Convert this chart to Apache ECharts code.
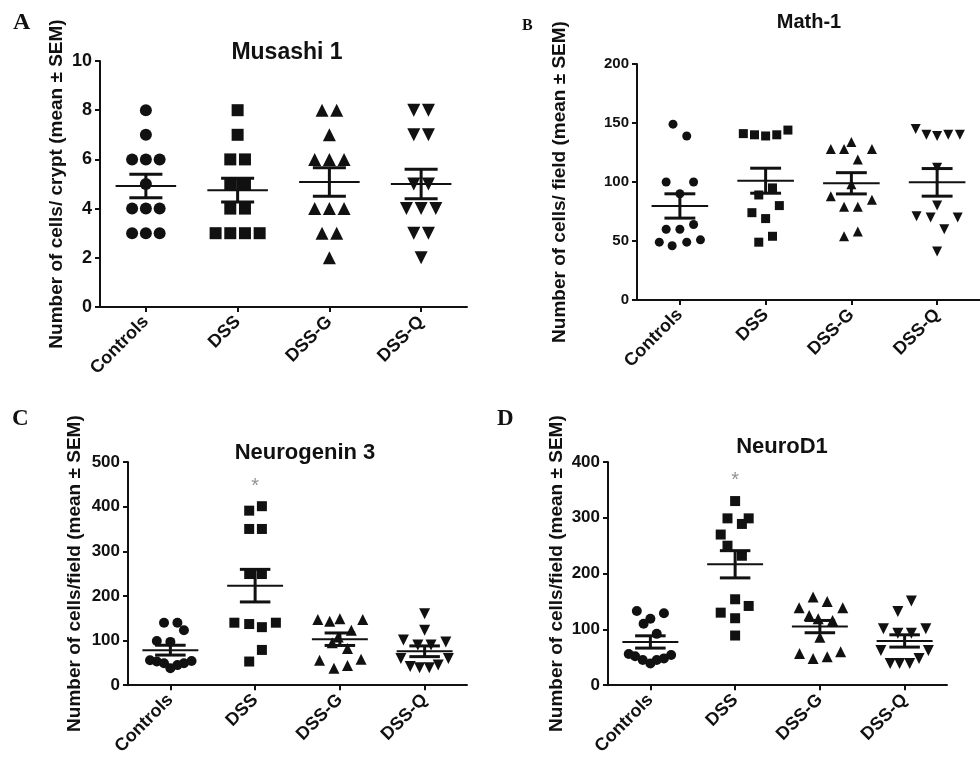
<!DOCTYPE html>
<html>
<head>
<meta charset="utf-8">
<script src="https://cdn.jsdelivr.net/npm/echarts@6/dist/echarts.min.js"></script>
<style>
  html, body { margin: 0; padding: 0; background: #fff; }
  #main { width: 980px; height: 758px; }
</style>
</head>
<body>
<div id="main"></div>
<script>
// groups on the x axis
const groups = ['Controls', 'DSS', 'DSS-G', 'DSS-Q']
const shapes = ['circle', 'rect', 'triangle', 'triangle']
const shapeTurn = [0, 0, 0, 180]

// A - Musashi 1 (cells / crypt)
const musashiValues = [
  [8, 7, 6, 6, 6, 5, 4, 4, 4, 3, 3, 3],
  [8, 7, 6, 6, 5, 5, 4, 4, 3, 3, 3, 3],
  [8, 8, 7, 6, 6, 6, 4, 4, 4, 3, 3, 2],
  [8, 8, 7, 7, 5, 5, 4, 4, 4, 3, 3, 2]
]
const musashiSpread = [
  [0, 0, -0.15, 0, 0.15, 0, -0.15, 0, 0.15, -0.15, 0, 0.15],
  [0, 0, -0.08, 0.08, -0.08, 0.08, -0.08, 0.08, -0.24, -0.08, 0.08, 0.24],
  [-0.08, 0.08, 0, -0.16, 0, 0.16, -0.16, 0, 0.16, -0.08, 0.08, 0],
  [-0.08, 0.08, -0.08, 0.08, -0.08, 0.08, -0.16, 0, 0.16, -0.08, 0.08, 0]
]
const musashiMean = [4.92, 4.75, 5.08, 5.0]
const musashiSem = [0.48, 0.48, 0.58, 0.6]

// B - Math-1 (cells / field)
const mathValues = [
  [149, 139, 100, 100, 90, 64, 60, 60, 49, 46, 49, 51],
  [141, 140, 139, 140, 144, 95, 89, 80, 74, 69, 54, 49],
  [128, 128, 134, 128, 119, 98, 88, 79, 79, 85, 54, 58],
  [145, 140, 139, 140, 140, 112, 80, 71, 70, 70, 60, 41]
]
const mathSpread = [
  [-0.08, 0.08, -0.16, 0.16, 0, 0.16, -0.16, 0, -0.24, -0.09, 0.08, 0.24],
  [-0.26, -0.13, 0, 0.13, 0.26, 0.08, -0.08, 0.16, -0.16, 0, 0.08, -0.08],
  [-0.24, -0.085, 0, 0.24, 0.075, 0, -0.24, -0.085, 0.075, 0.24, -0.085, 0.075],
  [-0.25, -0.125, 0, 0.13, 0.265, 0, 0, -0.24, -0.076, 0.24, 0.083, 0]
]
const mathMean = [79.7, 101.1, 98.9, 99.7]
const mathSem = [10.3, 10.6, 9, 11.7]

// C - Neurogenin 3 (cells / field)
const ngnValues = [
  [140, 140, 123, 99, 97, 56, 53, 49, 38, 45, 49, 54],
  [391, 401, 350, 350, 249, 249, 140, 137, 130, 140, 79, 53],
  [147, 143, 149, 147, 123, 108, 95, 82, 56, 38, 44, 58],
  [160, 123, 101, 97, 90, 90, 60, 42, 39, 39, 45, 60]
]
const ngnSpread = [
  [-0.075, 0.083, 0.16, -0.16, 0, -0.24, -0.16, -0.075, 0, 0.083, 0.16, 0.25],
  [-0.07, 0.08, -0.07, 0.08, -0.07, 0.08, -0.245, -0.07, 0.08, 0.245, 0.08, -0.07],
  [-0.26, -0.12, 0, 0.27, 0.135, -0.02, -0.09, 0.09, -0.24, -0.07, 0.09, 0.25],
  [0, 0, -0.25, 0.25, -0.08, 0.075, -0.28, -0.17, -0.06, 0.055, 0.16, 0.28]
]
const ngnMean = [78.5, 223, 103, 76]
const ngnSem = [11, 36.5, 14, 12]
const ngnStar = [null, 445, null, null]

// D - NeuroD1 (cells / field)
const neurodValues = [
  [133, 119, 110, 129, 92, 56, 52, 45, 39, 45, 48, 54],
  [330, 299, 299, 289, 270, 250, 232, 154, 142, 130, 120, 89],
  [158, 139, 150, 139, 125, 119, 116, 86, 57, 48, 51, 60],
  [151, 132, 101, 101, 93, 93, 62, 62, 39, 39, 39, 48]
]
const neurodSpread = [
  [-0.16, 0, -0.08, 0.16, 0.075, -0.255, -0.18, -0.09, 0, 0.075, 0.16, 0.245],
  [0, -0.09, 0.16, 0.08, -0.17, -0.09, 0.08, 0, 0.16, -0.17, 0, 0],
  [-0.08, -0.245, 0.086, 0.27, -0.126, -0.02, 0.15, 0, -0.24, -0.08, 0.086, 0.245],
  [0.08, -0.08, -0.25, 0.25, -0.08, 0.08, -0.28, 0.28, -0.17, -0.06, 0.06, 0.17]
]
const neurodMean = [77.5, 216.7, 105, 79.3]
const neurodSem = [11, 24.4, 11, 11]
const neurodStar = [null, 367, null, null]

// panel layout
const panels = [
  { title: 'Musashi 1', letter: 'A', values: musashiValues, spread: musashiSpread, mean: musashiMean, sem: musashiSem, star: null,
    grid: { left: 100, top: 61, width: 367, height: 246 }, yMax: 10, yStep: 2, yName: 'Number of cells/ crypt (mean \u00b1 SEM)', nameGap: 34,
    titlePos: [282, 36], titleSize: 23, tickSize: 18, letterPos: [8, 6], letterSize: 24, dot: 12 },
  { title: 'Math-1', letter: 'B', values: mathValues, spread: mathSpread, mean: mathMean, sem: mathSem, star: null,
    grid: { left: 637, top: 64, width: 352, height: 236 }, yMax: 200, yStep: 50, yName: 'Number of cells/ field (mean \u00b1 SEM)', nameGap: 68,
    titlePos: [804, 7], titleSize: 20, tickSize: 15, letterPos: [517, 13], letterSize: 16, dot: 9 },
  { title: 'Neurogenin 3', letter: 'C', values: ngnValues, spread: ngnSpread, mean: ngnMean, sem: ngnSem, star: ngnStar,
    grid: { left: 128, top: 462, width: 339, height: 225 }, yMax: 500, yStep: 100, yName: 'Number of cells/field (mean \u00b1 SEM)', nameGap: 44,
    titlePos: [300, 437], titleSize: 22, tickSize: 17, letterPos: [7, 403], letterSize: 23, dot: 10 },
  { title: 'NeuroD1', letter: 'D', values: neurodValues, spread: neurodSpread, mean: neurodMean, sem: neurodSem, star: neurodStar,
    grid: { left: 608, top: 462, width: 339, height: 227 }, yMax: 400, yStep: 100, yName: 'Number of cells/field (mean \u00b1 SEM)', nameGap: 42,
    titlePos: [777, 431], titleSize: 22, tickSize: 17, letterPos: [492, 403], letterSize: 23, dot: 10 }
]

const ink = '#111'
const sans = '"Liberation Sans", Arial, sans-serif'

const titles = []
const grids = []
const xAxes = []
const yAxes = []
const series = []

panels.forEach((p, i) => {
  titles.push({
    text: p.title, left: p.titlePos[0], top: p.titlePos[1], textAlign: 'center',
    textStyle: { fontFamily: sans, fontSize: p.titleSize, fontWeight: 'bold', color: ink }
  })
  titles.push({
    text: p.letter, left: p.letterPos[0], top: p.letterPos[1],
    textStyle: { fontFamily: '"Liberation Serif", "Times New Roman", serif', fontSize: p.letterSize, fontWeight: 'bold', color: ink }
  })
  grids.push(p.grid)
  xAxes.push({
    gridIndex: i, type: 'value', min: -0.5, max: 3.5,
    axisLine: { onZero: false, lineStyle: { color: ink, width: 2 } },
    axisTick: { customValues: [0, 1, 2, 3], length: 5, lineStyle: { color: ink, width: 2 } },
    axisLabel: {
      customValues: [0, 1, 2, 3], rotate: 45, margin: 12,
      formatter: v => groups[v],
      fontFamily: sans, fontSize: 18, fontWeight: 'bold', color: ink
    },
    splitLine: { show: false }
  })
  yAxes.push({
    gridIndex: i, type: 'value', min: 0, max: p.yMax, interval: p.yStep,
    name: p.yName, nameLocation: 'middle', nameRotate: 90, nameGap: p.nameGap,
    nameTextStyle: { fontFamily: sans, fontSize: 19, fontWeight: 'bold', color: ink },
    axisLine: { show: true, onZero: false, lineStyle: { color: ink, width: 2 } },
    axisTick: { show: true, length: 5, lineStyle: { color: ink, width: 2 } },
    axisLabel: { margin: 8, fontFamily: sans, fontSize: p.tickSize, fontWeight: 'bold', color: ink },
    splitLine: { show: false }
  })
  // individual animals
  groups.forEach((g, k) => {
    series.push({
      type: 'scatter', name: g, xAxisIndex: i, yAxisIndex: i,
      symbol: shapes[k], symbolRotate: shapeTurn[k],
      symbolSize: k >= 2 ? p.dot + 1 : p.dot,
      itemStyle: { color: ink, opacity: 1 },
      data: p.values[k].map((v, j) => [k + p.spread[k][j], v]),
      z: 2
    })
  })
  // mean and SEM bars
  series.push({
    type: 'custom', xAxisIndex: i, yAxisIndex: i, z: 3,
    data: groups.map((g, k) => [k, p.mean[k], p.sem[k]]),
    renderItem: (params, api) => {
      const x = api.value(0), m = api.value(1), s = api.value(2)
      const seg = (x1, y1, x2, y2, w) => {
        const a = api.coord([x1, y1]), b = api.coord([x2, y2])
        return { type: 'line', shape: { x1: a[0], y1: a[1], x2: b[0], y2: b[1] }, style: { stroke: ink, lineWidth: w } }
      }
      return {
        type: 'group',
        children: [
          seg(x - 0.33, m, x + 0.33, m, 2),
          seg(x, m - s, x, m + s, 3),
          seg(x - 0.18, m + s, x + 0.18, m + s, 3),
          seg(x - 0.18, m - s, x + 0.18, m - s, 3)
        ]
      }
    }
  })
  // significance marks
  if (p.star) {
    series.push({
      type: 'scatter', xAxisIndex: i, yAxisIndex: i, symbolSize: 1,
      itemStyle: { color: 'rgba(0,0,0,0)' },
      label: { show: true, formatter: '*', position: 'inside', fontFamily: sans, fontSize: 20, color: '#777' },
      data: p.star.map((v, k) => [k, v]).filter(d => d[1] !== null)
    })
  }
})

const myChart = echarts.init(document.getElementById('main'))
myChart.setOption({
  animation: false,
  backgroundColor: '#fff',
  title: titles,
  grid: grids,
  xAxis: xAxes,
  yAxis: yAxes,
  series: series
})
</script>
</body>
</html>
